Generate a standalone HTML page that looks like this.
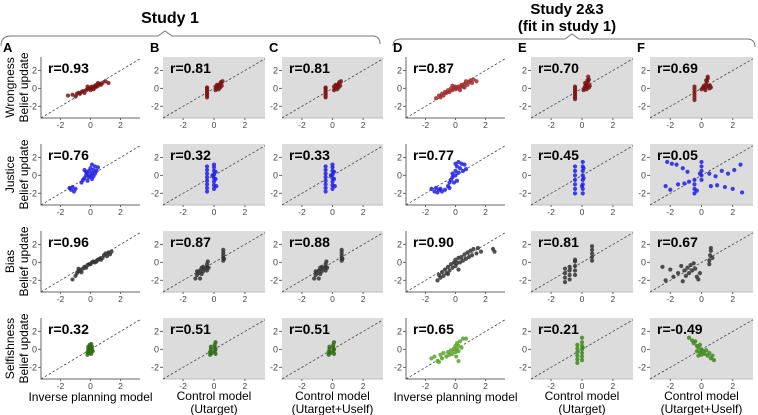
<!DOCTYPE html>
<html><head><meta charset="utf-8"><style>
html,body{margin:0;padding:0;background:#fff;width:758px;height:415px;overflow:hidden}
svg{display:block;font-family:"Liberation Sans",Arial,sans-serif}
</style></head><body>
<svg id="fig" width="758" height="415" viewBox="0 0 758 415">
<text x="170" y="23" text-anchor="middle" font-size="16" font-weight="bold">Study 1</text>
<path d="M1,46 Q1,36 11,36 L158,36 L165,31 L172,36 L372,36 Q380,36 380,44" fill="none" stroke="#777" stroke-width="1"/>
<text x="567" y="14" text-anchor="middle" font-size="15" font-weight="bold">Study 2&amp;3</text>
<text x="567" y="31" text-anchor="middle" font-size="15" font-weight="bold">(fit in study 1)</text>
<path d="M393,46 Q393,39 401,39 L565,39 L572,34 L579,39 L747,39 Q755,39 755,47" fill="none" stroke="#777" stroke-width="1"/>
<g id="panels"></g>
</svg>
<script>
// ---- data (x = model prediction, y = belief update) ----
const panelLetters = ["A","B","C","D","E","F"];
const rowNames = ["Wrongness","Justice","Bias","Selfishness"];
const rValues = [
 ["0.93","0.81","0.81","0.87","0.70","0.69"],
 ["0.76","0.32","0.33","0.77","0.45","0.05"],
 ["0.96","0.87","0.88","0.90","0.81","0.67"],
 ["0.32","0.51","0.51","0.65","0.21","-0.49"]];
const xTicks = [-2,0,2];
const yTicks = [-2,0,2];
const xLabels = [["Inverse planning model"],["Control model","(Utarget)"],["Control model","(Utarget+Uself)"],["Inverse planning model"],["Control model","(Utarget)"],["Control model","(Utarget+Uself)"]];
const rowColors = [["#7a1414","#7a1414","#7a1414","#a02a2a","#7a1414","#7a1414"],["#2020e8","#2020e8","#2020e8","#2020e8","#2020e8","#2020e8"],["#333","#333","#333","#333","#333","#333"],["#2d6a0f","#2d6a0f","#2d6a0f","#5da32a","#3c8a18","#3c8a18"]];
// wrongness
const wA = "-1.5,-0.8 -1.2,-0.7 -1,-0.9 -0.9,-0.6 -0.8,-0.5 -0.6,-0.4 -0.5,-0.3 -0.4,-0.5 -0.3,-0.2 -0.2,-0.1 -0.1,0 0,-0.2 0,0.1 0.1,0 0.1,0.2 0.2,0.1 0.2,-0.1 0.3,0.3 0.3,0.1 0.4,0.2 0.4,0.4 0.5,0.3 0.6,0.5 0.7,0.4 0.8,0.6 1.0,0.8 1.2,0.6 -0.2,0.2 0.5,0.6 -0.7,-0.6";
const wB = "-0.45,-1.0 -0.45,-0.8 -0.45,-0.6 -0.45,-0.4 -0.45,-0.2 -0.45,0 -0.45,0.1 0.1,-0.2 0.15,0 0.2,0.1 0.25,0.3 0.3,0.2 0.3,-0.1 0.35,0.4 0.4,0.5 0.45,0.7 0.2,0.4 0.1,0.2 0.5,0.3 0.4,0.1 0.55,0.8";
const wE = "-0.45,-1.2 -0.45,-1.0 -0.45,-0.8 -0.45,-0.6 -0.45,-0.4 -0.45,-0.2 -0.45,0 -0.45,0.2 0.1,-0.2 0.15,0 0.2,0.2 0.25,0.4 0.3,0.1 0.3,-0.1 0.35,0.5 0.4,0.8 0.45,1.0 0.4,1.3 0.2,0.6 0.5,0.3 0.35,0.9 0.45,0.1";
const wF = "-0.45,-1.3 -0.45,-1.0 -0.45,-0.7 -0.45,-0.4 -0.45,-0.1 -0.45,0.2 0.0,-0.1 0.1,0.1 0.2,0 0.3,0.2 0.3,0.5 0.35,0.8 0.4,1.1 0.4,1.3 0.45,0.3 0.5,0 0.55,0.3 0.6,0.1 0.25,-0.2 0.15,0.3 0.3,0.9";
const wD = "-1.3,-1.1 -1.1,-0.8 -1.0,-1.0 -0.9,-0.6 -0.8,-0.8 -0.7,-0.4 -0.6,-0.5 -0.5,-0.2 -0.4,-0.4 -0.3,0 -0.2,-0.2 -0.1,0.1 0,-0.1 0,0.2 0.1,0 0.2,0.2 0.3,0.1 0.4,0.4 0.5,0.2 0.6,0.5 0.7,0.8 0.8,0.4 0.9,0.7 1.0,0.9 1.1,0.6 1.2,1.0 1.4,0.8 -0.2,0.3 0.3,-0.2 0.6,0.1";
// justice
const jA = "-1.4,-1.4 -1.3,-1.6 -1.2,-1.3 -1.1,-1.8 -1.0,-1.5 -0.6,-0.8 -0.5,-0.5 -0.4,-0.3 -0.3,0 -0.3,0.4 -0.2,-0.6 -0.2,0.2 -0.1,-0.2 -0.1,0.5 0,0 0,0.8 0.1,-0.4 0.1,0.3 0.2,0.6 0.2,-0.1 0.3,1.0 0.3,0.2 0.4,0.5 0.5,0.9 0.1,1.2 -0.4,0.6";
const jB = "-0.45,-1.8 -0.45,-1.4 -0.45,-1.0 -0.45,-0.6 -0.45,-0.2 -0.45,0.2 -0.45,0.6 -0.45,1.0 0,-1.5 0,-1.1 0,-0.7 0,-0.3 0,0.1 0,0.5 0,0.9 0,1.2 0.1,-0.4 0.1,0.4 -0.1,0.0 0.15,-1.2";
const jD = "-1.6,-1.5 -1.4,-1.8 -1.3,-1.4 -1.2,-1.9 -1.1,-1.6 -1.0,-1.5 -0.9,-1.8 -0.7,-1.6 -0.5,-1.2 -0.4,-0.8 -0.3,-0.5 -0.2,-0.2 -0.2,0.2 -0.1,-0.8 0,0 0,0.5 0.1,-0.6 0.1,1.0 0.2,0.3 0.2,1.5 0.3,0.8 0.4,1.3 0.5,0.5 0.6,1.2 0.7,0.7 -0.4,-1.4 0.0,1.3";
const jE = "-0.45,-2.0 -0.45,-1.5 -0.45,-1.0 -0.45,-0.5 -0.45,0 -0.45,0.5 -0.45,1.0 0.05,-2.0 0.05,-1.5 0.05,-1.0 0.05,-0.5 0.05,0 0.05,0.5 0.05,1.0 0.05,1.5 0.1,-0.3 0.1,0.8 0.0,-1.2";
const jF = "-0.45,-2.0 -0.45,-1.5 -0.45,-1.0 -0.45,-0.5 0,-0.5 0,0 0,0.5 0,1.0 0,1.5 -0.1,0.2 -2.2,1.5 -1.9,1.3 -1.6,1.2 -1.2,0.8 -0.9,0.4 0.5,0.2 0.9,-0.1 1.3,0.5 1.7,0.2 2.1,0.6 2.5,1.2 -2.3,-1.2 -2.0,-1.6 -1.5,-1.0 -1.1,-0.9 -0.8,-0.7 0.6,-1.2 1.0,-1.1 1.5,-1.3 2.0,-1.5 2.6,-1.9 -0.3,-1.7";
// bias
const bA = "-1.2,-1.9 -1.0,-1.5 -0.9,-1.2 -0.8,-1.0 -0.7,-0.9 -0.6,-1.1 -0.5,-0.7 -0.4,-0.5 -0.3,-0.6 -0.2,-0.3 -0.1,-0.2 0,-0.2 0.1,0 0.2,0.1 0.3,0 0.4,0.1 0.5,0.3 0.6,0.4 0.7,0.3 0.8,0.5 0.9,0.8 1.0,1.0 1.1,0.7 1.2,1.1 1.3,0.9 1.4,1.2 -0.8,-0.7";
const bB = "-1.2,-1.8 -1.1,-1.4 -1.1,-1.0 -1.0,-1.2 -0.9,-0.9 -0.8,-1.3 -0.8,-0.6 -0.7,-1.0 -0.7,-0.5 -0.6,-0.7 -0.45,-0.9 -0.45,-0.5 -0.45,-0.2 -0.4,0.1 -0.35,-0.6 0.6,0.2 0.6,0.5 0.6,0.8 0.6,1.1 0.6,1.4 0.65,0.4 -0.9,-1.8";
const bD = "-1.2,-2.0 -1.1,-1.4 -1.0,-1.7 -0.9,-1.1 -0.8,-1.5 -0.7,-0.8 -0.6,-1.2 -0.5,-0.5 -0.4,-0.9 -0.3,-0.2 -0.2,-0.6 -0.1,0 0,-0.4 0,0.3 0.1,-0.1 0.2,0.5 0.3,0 0.4,0.6 0.5,0.2 0.6,0.9 0.7,0.4 0.8,1.1 0.9,0.6 1.0,1.3 1.1,0.8 1.2,1.5 1.4,1.0 1.5,1.6 1.7,1.2 2.5,1.5 2.6,1.2 -0.5,-1.3 0.2,-0.8";
const bE = "-1.1,-2.2 -1.1,-1.7 -1.1,-1.2 -1.1,-0.7 -0.8,-1.9 -0.8,-1.4 -0.8,-0.9 -0.8,-0.5 -0.45,-1.4 -0.45,-0.9 -0.45,-0.4 -0.45,0.1 -0.45,0.3 0.65,0.2 0.65,0.6 0.65,1.0 0.65,1.4 0.65,1.8";
const bF = "-2.5,-0.5 -2.3,-2.0 -2.0,-0.8 -1.8,-1.6 -1.5,-1.2 -1.3,-0.4 -1.1,-0.9 -1.0,-1.5 -0.9,-0.6 -0.8,-1.2 -0.7,-0.3 -0.6,-0.9 -0.5,-0.1 -0.4,-0.7 -0.3,-1.6 -0.2,-1.9 -0.1,-1.2 0.5,0.2 0.55,0.8 0.6,1.3 0.6,1.6 0.7,0.5 0.5,-0.2 -1.2,-2.1";
// selfishness
const sA = "-0.2,-0.6 -0.2,-0.3 -0.15,0 -0.15,0.3 -0.1,-0.4 -0.1,0.1 -0.05,0.5 0,-0.2 0,0.2 0.05,0.6 0.05,-0.5 0.1,0 0.1,0.3 0.15,-0.2";
const sB = "-0.25,-0.6 -0.25,-0.3 -0.2,0 -0.2,0.3 -0.15,-0.4 0.05,-0.2 0.05,0.2 0.05,0.5 0.1,0.8 0.1,0 0.1,-0.5";
const sD = "-1.6,-1.0 -1.4,-0.8 -1.2,-1.3 -1.0,-0.6 -0.9,-1.0 -0.8,-0.4 -0.6,-0.8 -0.5,-0.3 -0.4,-0.6 -0.3,-0.1 -0.2,-0.5 -0.1,0.1 0,-0.3 0,0.4 0.05,-0.8 0.1,0 0.1,0.7 0.2,-0.2 0.2,0.4 0.3,0.9 0.4,0.2 0.5,1.2 0.7,1.2 -1.1,-1.4 0.2,-1.3";
const sE = "-0.3,-1.5 -0.3,-1.1 -0.3,-0.7 -0.3,-0.3 -0.3,0.1 -0.3,0.5 0,-1.2 0,-0.8 0,-0.4 0,0 0,0.4 0,0.8 0,1.3 0.05,0.2";
const sF = "-0.8,1.3 -0.6,1.0 -0.5,0.7 -0.4,0.9 -0.3,0.4 -0.3,-0.2 -0.2,0.2 -0.1,-0.3 -0.1,0.5 0,0 0,-0.6 0.1,-0.2 0.2,-0.5 0.3,-0.1 0.4,-0.7 0.5,-0.4 0.6,-1.0 0.7,-0.7 0.8,-1.2 -0.2,-0.7";
const panelData = [[wA,wB,wB,wD,wE,wF],[jA,jB,jB,jD,jE,jF],[bA,bB,bB,bD,bE,bF],[sA,sB,sB,sD,sE,sF]];

// ---- layout ----
const colLeft = [41,163,282,406,531,650];
const colW = [99,102,101,99,102,103];
const rowTop = [57,144,231,318];
const PH = 61;
const xDom = [-3.3,3.3], yDom = [-3.3,3.5];
const NS = "http://www.w3.org/2000/svg";
const root = document.getElementById('panels');
function mk(tag, attrs, parent){const e=document.createElementNS(NS,tag);for(const k in attrs)e.setAttribute(k,attrs[k]);(parent||root).appendChild(e);return e;}
function parsePts(s){return s.trim().split(/\s+/).map(p=>p.split(',').map(Number));}

for(let c=0;c<6;c++){
  const lt = mk('text',{x:colLeft[c]-(c===0?38:13),y:52,'font-size':13,'font-weight':'bold'});
  lt.textContent = panelLetters[c];
  
  
  for(let r=0;r<4;r++){
    const L=colLeft[c], W=colW[c], T=rowTop[r];
    const sx = v => L + (v-xDom[0])/(xDom[1]-xDom[0])*W;
    const sy = v => T + PH - (v-yDom[0])/(yDom[1]-yDom[0])*PH;
    const g = mk('g',{});
    
    
    const model = (c===0||c===3);
    if(!model){
      const bg = mk('rect',{x:L,y:T,width:W,height:PH,fill:'#dcdcdc'},g);
      
      
      mk('line',{x1:L,y1:T+PH,x2:L+W,y2:T+PH,stroke:'#bbb','stroke-width':1},g);
    } else {
      const ax = mk('path',{d:`M${L},${T} L${L},${T+PH} L${L+W},${T+PH}`,fill:'none',stroke:'#666','stroke-width':1},g);
      
      
    }
    const dl = mk('line',{x1:sx(xDom[0]),y1:sy(xDom[0]),x2:sx(xDom[1]),y2:sy(xDom[1]),stroke:'#444','stroke-width':0.8,'stroke-dasharray':'2.5,2'},g);
    
    
    xTicks.forEach(t=>{
      mk('line',{x1:sx(t),y1:T+PH,x2:sx(t),y2:T+PH+2,stroke:'#666'},g);
      const tx = mk('text',{x:sx(t),y:T+PH+10,'font-size':8.5,fill:'#444','text-anchor':'middle'},g);
      tx.textContent = String(t);
      
      
    });
    yTicks.forEach(t=>{
      mk('line',{x1:L-3,y1:sy(t),x2:L,y2:sy(t),stroke:'#666'},g);
      const ty = mk('text',{x:L-4,y:sy(t)+3,'font-size':9,fill:'#444','text-anchor':'end'},g);
      ty.textContent = String(t);
      
      
    });
    parsePts(panelData[r][c]).forEach(p=>{
      const pt = mk('circle',{cx:sx(p[0]),cy:sy(p[1]),r:2.1,fill:rowColors[r][c],'fill-opacity':0.85},g);
      
      
    });
    const rt = mk('text',{x:L+7,y:T+16,'font-size':14,'font-weight':'bold'},g);
    rt.textContent = 'r='+rValues[r][c];
    
    
    if(c===0){
      const yl = mk('text',{transform:`translate(${L-22},${T+PH/2}) rotate(-90)`,'font-size':12,'text-anchor':'middle'});
      
      
      const t1 = mk('tspan',{x:0,y:-5},yl); t1.textContent = rowNames[r];
      const t2 = mk('tspan',{x:0,y:9},yl); t2.textContent = 'Belief update';
    }
    if(r===3){
      xLabels[c].forEach((s,i)=>{
        const xl = mk('text',{x:L+W/2,y:T+PH+(xLabels[c].length===1?22:21)+i*13,'font-size':12,'text-anchor':'middle'});
        xl.textContent = s;
        
        
      });
    }
  }
}
</script>
</body></html>
